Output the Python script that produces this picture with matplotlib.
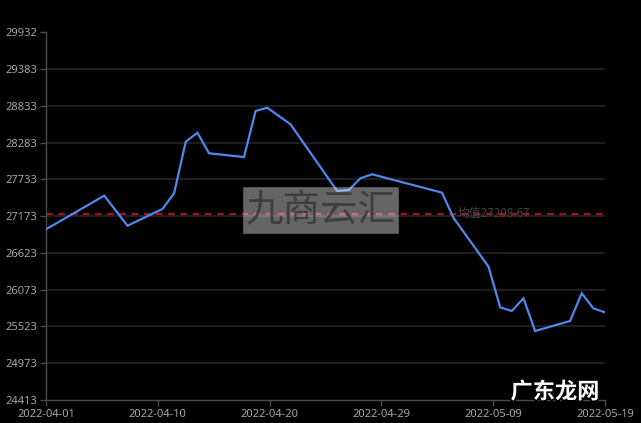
import matplotlib
matplotlib.use("Agg")
import matplotlib.pyplot as plt
import matplotlib.patheffects as pe
import numpy as np
import pandas as pd
from matplotlib.patches import Rectangle

BG = "#000000"
GRID = "#222222"
AXIS = "#4a4a4a"
MUT = "#a6a6a6"
BLUE = "#5087ec"
RED = "#a8101a"

dates = ["2022-04-01", "2022-04-06", "2022-04-08", "2022-04-11", "2022-04-12",
         "2022-04-13", "2022-04-14", "2022-04-15", "2022-04-18", "2022-04-19",
         "2022-04-20", "2022-04-22", "2022-04-26", "2022-04-27", "2022-04-28",
         "2022-04-29", "2022-05-05", "2022-05-06", "2022-05-09", "2022-05-10",
         "2022-05-11", "2022-05-12", "2022-05-13", "2022-05-16", "2022-05-17",
         "2022-05-18", "2022-05-19"]
prices = [26975, 27480, 27029, 27280, 27516, 28290, 28425, 28116, 28060, 28751,
          28800, 28551, 27550, 27565, 27741, 27801, 27525, 27145, 26414, 25804,
          25749, 25940, 25449, 25599, 26015, 25789, 25729]
mean_value = 27208.67

y_ticklabels = ["24413", "24973", "25523", "26073", "26623", "27173",
                "27733", "28283", "28833", "29383", "29932"]
y_min, y_max = 24413, 29932
x_ticklabels = ["2022-04-01", "2022-04-10", "2022-04-20", "2022-04-29",
                "2022-05-09", "2022-05-19"]

CJK = ["Noto Sans CJK SC", "DejaVu Sans"]

d = pd.to_datetime(dates)
days = (d - d[0]).days.values.astype(float)
span = days[-1]

fig = plt.figure(figsize=(6.41, 4.23), dpi=100)
fig.patch.set_facecolor(BG)
ax = fig.add_axes([46 / 641, 23 / 423, 559 / 641, 367.7 / 423])
ax.set_facecolor(BG)
ax.set_xlim(0, span)
ax.set_ylim(y_min, y_max)

yt = np.linspace(y_min, y_max, len(y_ticklabels))
for v in yt[1:-1]:
    ax.axhline(v, color=GRID, lw=1.3, zorder=0)
ax.set_yticks(yt)
ax.set_yticklabels(y_ticklabels, color=MUT, fontsize=8, family="Noto Sans")
ax.set_xticks(np.linspace(0, span, len(x_ticklabels)))
ax.set_xticklabels(x_ticklabels, color=MUT, fontsize=8, family="Noto Sans")
ax.tick_params(axis="both", colors=AXIS, length=4, width=1, labelcolor=MUT)
ax.tick_params(axis="y", pad=2)
ax.tick_params(axis="x", pad=2.5)
for k in ("top", "right"):
    ax.spines[k].set_visible(False)
for k in ("left", "bottom"):
    ax.spines[k].set_color(AXIS)
    ax.spines[k].set_linewidth(1)

ax.plot(days, prices, color=BLUE, lw=1.6, zorder=3, solid_joinstyle="miter")
ax.axhline(mean_value, color=RED, lw=1.6, ls=(0, (3, 2.5)), zorder=2)
ax.text(0.737, mean_value, "均值{:.2f}".format(mean_value), transform=ax.get_yaxis_transform(),
        ha="left", va="center", color="#444444", fontsize=8.5, family=CJK, zorder=4)

# watermark box
box = Rectangle((243 / 641, (423 - 233) / 423), 155 / 641, 46 / 423, transform=fig.transFigure,
                facecolor="#ffffff", alpha=0.4, edgecolor="#888888", lw=0.8, zorder=5)
fig.patches.append(box)
fig.text(320.5 / 641, (423 - 211) / 423, "九商云汇", ha="center", va="center", color="#383838",
         alpha=0.85, fontsize=27, family=CJK, zorder=6)

fig.text(555 / 641, (423 - 392) / 423, "广东龙网", ha="center", va="center", color="white",
         fontsize=16, fontweight="bold", family=CJK, zorder=7,
         path_effects=[pe.withStroke(linewidth=2.5, foreground="black")])

fig.savefig("out.png", facecolor=BG, dpi=100)
